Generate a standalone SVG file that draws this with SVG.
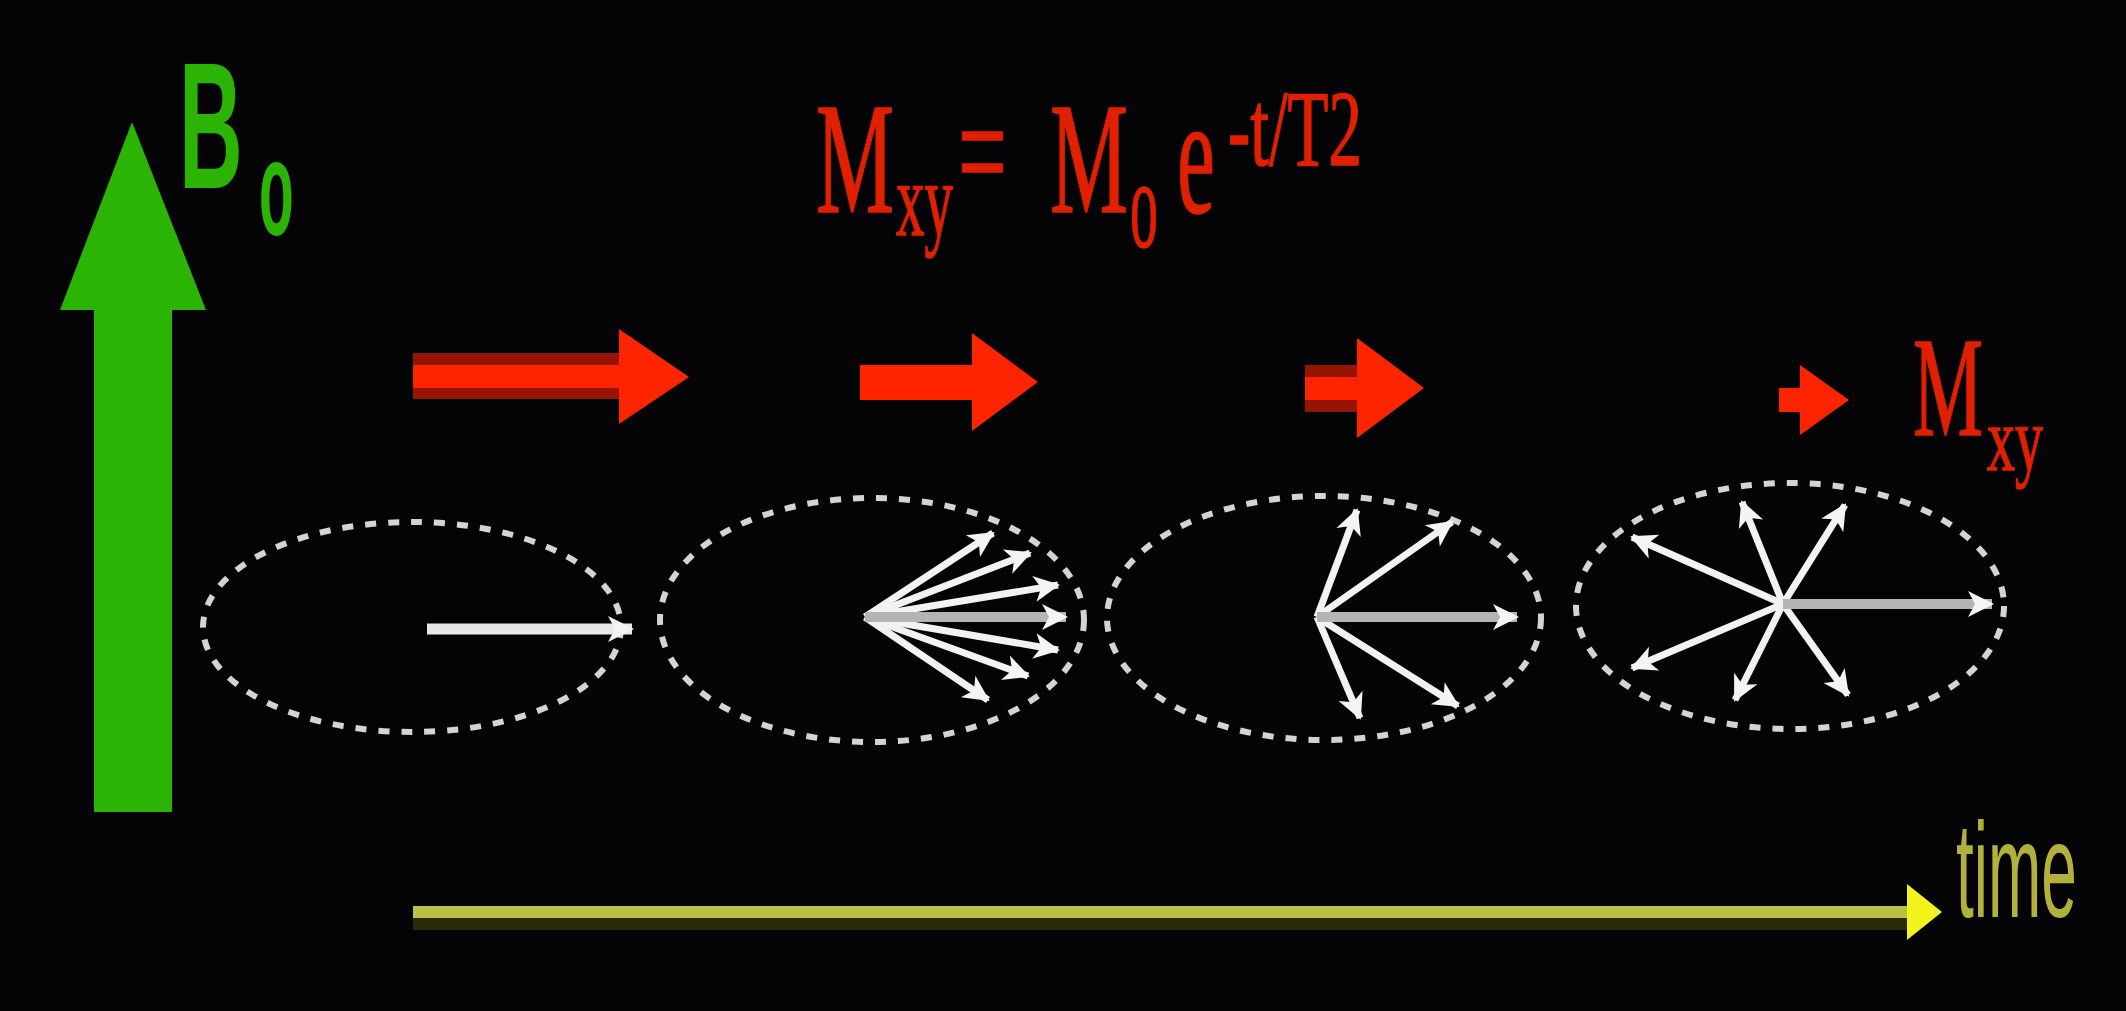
<svg xmlns="http://www.w3.org/2000/svg" width="2126" height="1011" viewBox="0 0 2126 1011">
  <style>
    .ring { fill: none; stroke: #d4d4d4; stroke-width: 6; stroke-dasharray: 11 12; }
    .spin { stroke: #f2f2f2; stroke-width: 7; stroke-linecap: butt; marker-end: url(#spinTip); }
    .net { stroke: #b4b4b4; stroke-width: 10; marker-end: url(#spinTip); }
    .mag { fill: #ff2400; }
    .shade { fill: #961404; }
    .f { font-family: "Liberation Serif", "Times New Roman", serif; fill: #e02000; stroke: #e02000; stroke-width: 1.5; }
    .g { font-family: "Liberation Sans", Arial, sans-serif; font-weight: bold; fill: #2cb404; }
    .t { font-family: "Liberation Sans", Arial, sans-serif; fill: #b4b03c; }
  </style>
  <defs>
    <marker id="spinTip" viewBox="0 0 30 30" refX="26" refY="15" markerWidth="30" markerHeight="30" markerUnits="userSpaceOnUse" orient="auto">
      <path d="M2,2 L28,15 L2,28 L9,15 z" fill="#f4f4f4"/>
    </marker>
  </defs>

  <rect width="2126" height="1011" fill="#040306"/>

  <!-- static field B0 -->
  <g id="b0-field">
    <polygon points="132,122 206,310 172,310 172,812 94,812 94,310 60,310" fill="#2cb404"/>
  </g>
  <g id="b0-label">
    <text class="g" transform="matrix(0.49,0,0,1,179,188)" font-size="180">B</text>
    <text class="g" transform="matrix(0.42,0,0,1,259,235)" font-size="135">o</text>
  </g>

  <!-- decay law, condensed glyphs -->
  <g id="formula">
    <text class="f" transform="matrix(0.549,0,0,1,816,212)" font-size="160">M</text>
    <text class="f" transform="matrix(0.543,0,0,1,896,235)" font-size="105">xy</text>
    <text class="f" transform="matrix(0.543,0,0,1,958,205)" font-size="160" stroke-width="6">=</text>
    <text class="f" transform="matrix(0.549,0,0,1,1050,212)" font-size="160">M</text>
    <text class="f" transform="matrix(0.4375,0,0,1,1130,247)" font-size="128">o</text>
    <text class="f" transform="matrix(0.503,0,0,1,1177,212)" font-size="170">e</text>
    <text class="f" transform="matrix(0.626,0,0,1,1228,165)" font-size="107">-t/T2</text>
  </g>

  <!-- shrinking transverse magnetisation -->
  <g id="mxy-arrows">
    <polygon class="mag" points="413,353 619,353 619,329 689,377 619,424 619,399 413,399"/>
    <rect class="shade" x="413" y="353" width="206" height="12"/>
    <rect class="shade" x="413" y="388" width="206" height="11"/>
    <polygon class="mag" points="860,365 972,365 972,333 1038,382 972,431 972,400 860,400"/>
    <polygon class="mag" points="1305,365 1357,365 1357,338 1424,388 1357,438 1357,412 1305,412"/>
    <rect class="shade" x="1305" y="365" width="52" height="12"/>
    <rect class="shade" x="1305" y="400" width="52" height="12"/>
    <polygon class="mag" points="1779,388 1800,388 1800,365 1849,400 1800,435 1800,412 1779,412"/>
  </g>
  <g id="mxy-label">
    <text class="f" transform="matrix(0.555,0,0,1,1913,435)" font-size="142">M</text>
    <text class="f" transform="matrix(0.622,0,0,1,1987,470)" font-size="90">xy</text>
  </g>

  <!-- spin ensembles in the transverse plane -->
  <g id="ensemble-1">
    <ellipse class="ring" cx="412" cy="627" rx="209" ry="105"/>
  </g>
  <g id="ensemble-2">
    <ellipse class="ring" cx="872" cy="620" rx="212" ry="122"/>
  </g>
  <g id="ensemble-3">
    <ellipse class="ring" cx="1324" cy="618" rx="217" ry="122"/>
  </g>
  <g id="ensemble-4">
    <ellipse class="ring" cx="1790" cy="606" rx="214" ry="123"/>
  </g>

  <g id="connectors">
    <!-- fresh coherence -->
    <line x1="427" y1="629" x2="632" y2="629" stroke="#e8e8e8" stroke-width="11" marker-end="url(#spinTip)"/>
    <!-- slight fan -->
    <line class="spin" x1="865" y1="617" x2="993" y2="533"/>
    <line class="spin" x1="865" y1="617" x2="1030" y2="553"/>
    <line class="spin" x1="865" y1="617" x2="1058" y2="585"/>
    <line class="spin" x1="865" y1="617" x2="988" y2="700"/>
    <line class="spin" x1="865" y1="617" x2="1028" y2="676"/>
    <line class="spin" x1="865" y1="617" x2="1058" y2="650"/>
    <line class="net" x1="865" y1="617" x2="1066" y2="617"/>
    <!-- wider fan -->
    <line class="spin" x1="1317" y1="617" x2="1357" y2="510"/>
    <line class="spin" x1="1317" y1="617" x2="1452" y2="522"/>
    <line class="spin" x1="1317" y1="617" x2="1360" y2="718"/>
    <line class="spin" x1="1317" y1="617" x2="1458" y2="706"/>
    <line class="net" x1="1317" y1="617" x2="1517" y2="617"/>
    <!-- dephased -->
    <line class="spin" x1="1783" y1="604" x2="1632" y2="537"/>
    <line class="spin" x1="1783" y1="604" x2="1632" y2="668"/>
    <line class="spin" x1="1783" y1="604" x2="1742" y2="502"/>
    <line class="spin" x1="1783" y1="604" x2="1845" y2="505"/>
    <line class="spin" x1="1783" y1="604" x2="1735" y2="700"/>
    <line class="spin" x1="1783" y1="604" x2="1848" y2="695"/>
    <line class="net" x1="1783" y1="604" x2="1992" y2="604"/>
  </g>

  <!-- time axis -->
  <g id="time-axis">
    <rect x="413" y="918" width="1496" height="12" fill="#2a2a0a"/>
    <rect x="413" y="906" width="1496" height="12" fill="#bcc044"/>
    <polygon points="1907,884 1942,912 1907,940" fill="#f2f21c"/>
    <text class="t" transform="matrix(0.474,0,0,1,1956,917)" font-size="135">time</text>
  </g>
</svg>
